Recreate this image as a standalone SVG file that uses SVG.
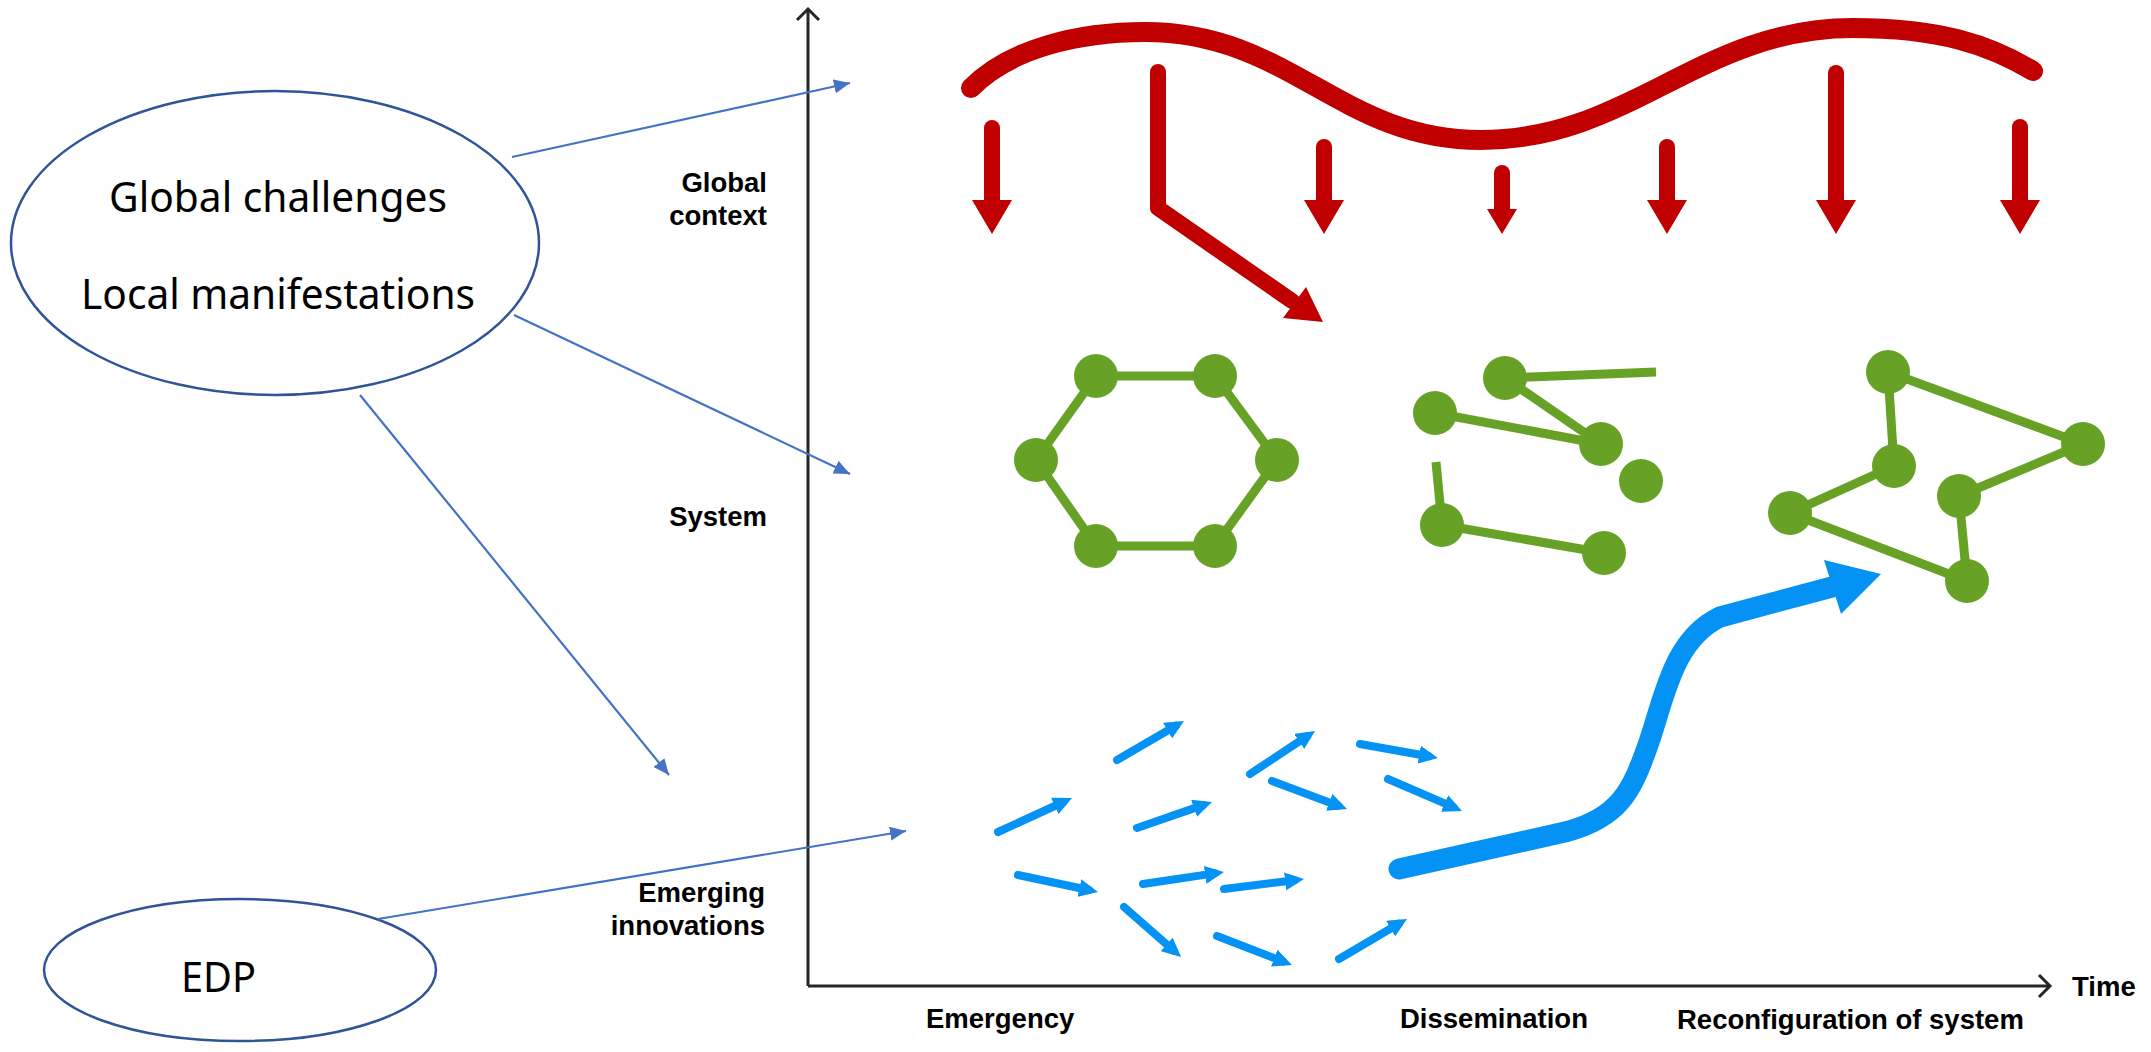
<svg xmlns="http://www.w3.org/2000/svg" width="2151" height="1052" viewBox="0 0 2151 1052">
<defs>
<style>
.bubble{fill:#fff;stroke:#2F5597;stroke-width:2.5}
.btext{font-family:"Noto Sans","Open Sans",sans-serif;font-size:41px;fill:#000}
.lab{font-family:"Liberation Sans",Arial,sans-serif;font-weight:bold;font-size:27.5px;fill:#000}
.conn{stroke:#4472C4;stroke-width:2.2;fill:none}
.axis{stroke:#262626;stroke-width:3;fill:none}
.red{stroke:#C00000;fill:none;stroke-linecap:round;stroke-linejoin:round}
.redh{fill:#C00000}
.gedge{stroke:#67A226;stroke-width:9;fill:none}
.gnode{fill:#67A226}
.sb{stroke:#0493F5;stroke-width:8;stroke-linecap:round;fill:none}
</style>
<marker id="cm" viewBox="0 0 16 14" markerWidth="16" markerHeight="14" refX="16" refY="7" orient="auto" markerUnits="userSpaceOnUse"><path d="M0,0 L16,7 L0,14 z" fill="#4472C4"/></marker>
<marker id="sbm" viewBox="0 0 19 18" markerWidth="19" markerHeight="18" refX="9.5" refY="9" orient="auto" markerUnits="userSpaceOnUse"><path d="M0,0 L19,9 L0,18 z" fill="#0493F5"/></marker>
</defs>
<rect width="2151" height="1052" fill="#fff"/>

<g id="node-global">
<ellipse class="bubble" cx="275" cy="243" rx="264" ry="152"/>
<text class="btext" x="109" y="212" textLength="338" lengthAdjust="spacingAndGlyphs">Global challenges</text>
<text class="btext" x="81" y="309" textLength="394" lengthAdjust="spacingAndGlyphs">Local manifestations</text>
</g>
<g id="node-edp">
<ellipse class="bubble" cx="240" cy="970" rx="196" ry="71"/>
<text class="btext" x="181" y="992" textLength="75" lengthAdjust="spacingAndGlyphs">EDP</text>
</g>

<g id="axes">
<path class="axis" d="M808,986 L808,9 M797,20 L808,9 L819,20"/>
<path class="axis" d="M808,986 L2050,986 M2039,975 L2050,986 L2039,997"/>
</g>

<g id="labels">
<text class="lab" x="767" y="192" text-anchor="end">Global</text>
<text class="lab" x="767" y="225" text-anchor="end">context</text>
<text class="lab" x="767" y="526" text-anchor="end">System</text>
<text class="lab" x="765" y="902" text-anchor="end">Emerging</text>
<text class="lab" x="765" y="935" text-anchor="end">innovations</text>
<text class="lab" x="926" y="1028">Emergency</text>
<text class="lab" x="1400" y="1028">Dissemination</text>
<text class="lab" x="1677" y="1029">Reconfiguration of system</text>
<text class="lab" x="2072" y="996">Time</text>
</g>

<g id="connectors">
<line class="conn" x1="512" y1="157" x2="850" y2="83" marker-end="url(#cm)"/>
<line class="conn" x1="514" y1="315" x2="850" y2="474" marker-end="url(#cm)"/>
<line class="conn" x1="360" y1="395" x2="669" y2="775" marker-end="url(#cm)"/>
<line class="conn" x1="378" y1="919" x2="906" y2="831" marker-end="url(#cm)"/>
</g>

<g id="global-context">
<path class="red" stroke-width="20" d="M971,88 C1010,48 1080,32 1145,32 C1290,32 1340,140 1481,140 C1630,140 1700,28 1853,28 C1940,28 1990,45 2033,71"/>
<g id="red-arrows">
<line class="red" stroke-width="16" x1="992" y1="128" x2="992" y2="204"/>
<polygon class="redh" points="972,200 1012,200 992,234"/>
<polyline class="red" stroke-width="16" points="1158,72 1158,208 1292,301"/>
<polygon class="redh" points="1283,318 1306,287 1323,322"/>
<line class="red" stroke-width="16" x1="1324" y1="147" x2="1324" y2="204"/>
<polygon class="redh" points="1304,200 1344,200 1324,234"/>
<line class="red" stroke-width="16" x1="1502" y1="173" x2="1502" y2="212"/>
<polygon class="redh" points="1487,209 1517,209 1502,234"/>
<line class="red" stroke-width="16" x1="1667" y1="147" x2="1667" y2="204"/>
<polygon class="redh" points="1647,200 1687,200 1667,234"/>
<line class="red" stroke-width="16" x1="1836" y1="73" x2="1836" y2="204"/>
<polygon class="redh" points="1816,200 1856,200 1836,234"/>
<line class="red" stroke-width="16" x1="2020" y1="127" x2="2020" y2="204"/>
<polygon class="redh" points="2000,200 2040,200 2020,234"/>
</g>
</g>

<g id="system-hexagon">
<polygon class="gedge" points="1096,376 1215,376 1277,460 1215,546 1096,546 1036,460"/>
<circle class="gnode" cx="1096" cy="376" r="22"/>
<circle class="gnode" cx="1215" cy="376" r="22"/>
<circle class="gnode" cx="1277" cy="460" r="22"/>
<circle class="gnode" cx="1215" cy="546" r="22"/>
<circle class="gnode" cx="1096" cy="546" r="22"/>
<circle class="gnode" cx="1036" cy="460" r="22"/>
</g>

<g id="system-broken">
<line class="gedge" x1="1505" y1="378" x2="1656" y2="372"/>
<line class="gedge" x1="1505" y1="378" x2="1601" y2="444"/>
<line class="gedge" x1="1435" y1="413" x2="1601" y2="444"/>
<line class="gedge" stroke-width="8" x1="1436" y1="462" x2="1442" y2="525"/>
<line class="gedge" x1="1442" y1="525" x2="1604" y2="553"/>
<circle class="gnode" cx="1505" cy="378" r="22"/>
<circle class="gnode" cx="1435" cy="413" r="22"/>
<circle class="gnode" cx="1601" cy="444" r="22"/>
<circle class="gnode" cx="1641" cy="481" r="22"/>
<circle class="gnode" cx="1442" cy="525" r="22"/>
<circle class="gnode" cx="1604" cy="553" r="22"/>
</g>

<g id="system-reconfigured">
<line class="gedge" x1="1888" y1="372" x2="2083" y2="444"/>
<line class="gedge" x1="1888" y1="372" x2="1894" y2="466"/>
<line class="gedge" x1="1894" y1="466" x2="1790" y2="513"/>
<line class="gedge" x1="1790" y1="513" x2="1967" y2="581"/>
<line class="gedge" x1="1959" y1="496" x2="2083" y2="444"/>
<line class="gedge" x1="1959" y1="496" x2="1967" y2="581"/>
<circle class="gnode" cx="1888" cy="372" r="22"/>
<circle class="gnode" cx="2083" cy="444" r="22"/>
<circle class="gnode" cx="1894" cy="466" r="22"/>
<circle class="gnode" cx="1959" cy="496" r="22"/>
<circle class="gnode" cx="1790" cy="513" r="22"/>
<circle class="gnode" cx="1967" cy="581" r="22"/>
</g>

<g id="innovations">
<line class="sb" x1="998" y1="832" x2="1063.4" y2="802" marker-end="url(#sbm)"/>
<line class="sb" x1="1018" y1="875" x2="1088.7" y2="890" marker-end="url(#sbm)"/>
<line class="sb" x1="1117" y1="760" x2="1175.8" y2="725.8" marker-end="url(#sbm)"/>
<line class="sb" x1="1137" y1="828" x2="1203" y2="805.1" marker-end="url(#sbm)"/>
<line class="sb" x1="1143" y1="884" x2="1214.6" y2="873.4" marker-end="url(#sbm)"/>
<line class="sb" x1="1124" y1="907" x2="1173.9" y2="950.7" marker-end="url(#sbm)"/>
<line class="sb" x1="1250" y1="774" x2="1307.1" y2="736.2" marker-end="url(#sbm)"/>
<line class="sb" x1="1272" y1="781" x2="1338.1" y2="805.7" marker-end="url(#sbm)"/>
<line class="sb" x1="1224" y1="889" x2="1294.6" y2="880.2" marker-end="url(#sbm)"/>
<line class="sb" x1="1217" y1="936" x2="1283.1" y2="961.6" marker-end="url(#sbm)"/>
<line class="sb" x1="1360" y1="744" x2="1428.6" y2="756.3" marker-end="url(#sbm)"/>
<line class="sb" x1="1388" y1="779" x2="1453.3" y2="807.2" marker-end="url(#sbm)"/>
<line class="sb" x1="1339" y1="959" x2="1398.8" y2="923.8" marker-end="url(#sbm)"/>
</g>

<g id="diffusion-arrow">
<path d="M1399,869 L1565,832 C1620,818 1632,790 1648,745 C1664,700 1672,640 1720,617 L1832,587" stroke="#0493F5" stroke-width="21" fill="none" stroke-linecap="round" stroke-linejoin="round"/>
<polygon points="1824,560 1881,574 1841,614" fill="#0493F5"/>
</g>
</svg>
